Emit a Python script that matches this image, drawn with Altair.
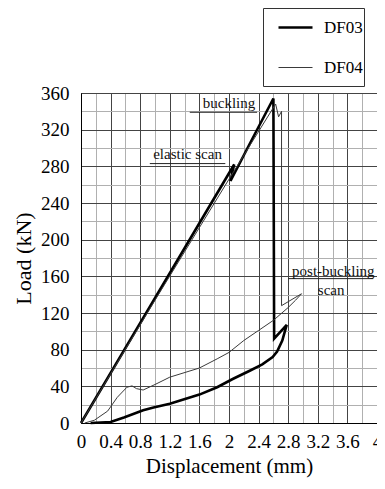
import altair as alt
import pandas as pd

# DF03 (thick): loading, elastic scan, buckling drop, reload, post-buckling unloading
df03_x = [0.0, 2.07, 2.02, 2.27, 2.60, 2.61, 2.78, 2.72, 2.65, 2.59, 2.45, 2.28, 2.05, 1.84, 1.60, 1.20, 0.98, 0.84, 0.58, 0.40, 0.13]
df03_y = [0, 282, 264, 303, 354, 92, 107, 90, 78, 72, 64, 57, 48, 39, 31, 21, 17, 14, 6, 1, 0]

# DF04 (thin)
df04_x = [0.0, 1.00, 2.00, 2.63, 2.67, 2.71, 2.71, 2.98, 2.90, 2.80, 2.60, 2.40, 2.20, 2.00, 1.84, 1.60, 1.20, 1.00, 0.84, 0.75, 0.69, 0.62, 0.49, 0.36, 0.18, 0.05]
df04_y = [0, 134, 266, 348, 334, 340, 128, 141, 134, 126, 112, 101, 90, 77, 70, 60, 50, 42, 36, 37.5, 40.5, 39, 28, 13, 3, 0]

series_names = ["DF03", "DF04"]

ann_text = ["buckling", "elastic scan", "post-buckling", "scan"]
ann_x = [2.0, 1.44, 3.41, 3.38]
ann_y = [349, 294, 165.5, 145]

ul_x1 = [1.47, 0.93, 2.80]
ul_x2 = [2.38, 1.95, 3.95]
ul_y = [339, 283, 157.5]

x_ticks = [round(i * 0.2, 1) for i in range(21)]
y_ticks = list(range(0, 361, 20))

rows = []
for i, (x, y) in enumerate(zip(df03_x, df03_y)):
    rows.append({"series": "DF03", "x": x, "y": y, "order": i})
for i, (x, y) in enumerate(zip(df04_x, df04_y)):
    rows.append({"series": "DF04", "x": x, "y": y, "order": i})
df = pd.DataFrame(rows)

ann = pd.DataFrame({"t": ann_text, "x": ann_x, "y": ann_y})
ul = pd.DataFrame({"x1": ul_x1, "x2": ul_x2, "y": ul_y})

FONT = "Liberation Serif"

xscale = alt.Scale(domain=[0, 4], nice=False)
yscale = alt.Scale(domain=[0, 360], nice=False)

x_axis = alt.Axis(
    title="Displacement (mm)", values=x_ticks, format="~g",
    labelExpr="round(datum.value*10) % 4 == 0 ? datum.label : ''",
    grid=True,
    gridColor={"condition": {"test": "round(datum.value*10) % 4 == 0", "value": "#444"}, "value": "#b0b0b0"},
    ticks=False, labelPadding=9, labelFontSize=19, titleFontSize=21,
    titlePadding=4, labelFlush=False, labelOverlap=False,
    labelFont=FONT, titleFont=FONT, titleFontWeight="normal",
    labelColor="#000", titleColor="#000", domainColor="#000",
)
y_axis = alt.Axis(
    title="Load (kN)", values=y_ticks,
    labelExpr="datum.value % 40 == 0 ? datum.label : ''",
    grid=True,
    gridColor={"condition": {"test": "datum.value % 40 == 0", "value": "#444"}, "value": "#b0b0b0"},
    ticks=False, labelPadding=12, labelFontSize=19, titleFontSize=22,
    titlePadding=5, labelFlush=False, labelOverlap=False,
    labelFont=FONT, titleFont=FONT, titleFontWeight="normal",
    labelColor="#000", titleColor="#000", domainColor="#000",
)

legend = alt.Legend(
    title=" ", titleOrient="bottom", titleFontSize=9, titlePadding=0,
    orient="none", legendX=182, legendY=-85,
    symbolType="stroke", symbolSize=1156, symbolOffset=13,
    labelFontSize=17, labelFont=FONT, labelOffset=10, labelColor="#000",
    labelExpr="datum.label + '   '",
    padding=1, rowPadding=14, strokeColor="#333", fillColor="white",
)

lines = alt.Chart(df).mark_line().encode(
    x=alt.X("x:Q", scale=xscale, axis=x_axis),
    y=alt.Y("y:Q", scale=yscale, axis=y_axis),
    color=alt.Color("series:N", scale=alt.Scale(domain=series_names, range=["#000000", "#3a3a3a"]), legend=legend),
    strokeWidth=alt.StrokeWidth("series:N", scale=alt.Scale(domain=series_names, range=[2.6, 1.0]), legend=legend),
    order="order:Q",
)

texts = alt.Chart(ann).mark_text(font=FONT, fontSize=15, color="#111").encode(
    x=alt.X("x:Q", scale=xscale, axis=x_axis), y=alt.Y("y:Q", scale=yscale, axis=y_axis), text="t:N"
)

rules = alt.Chart(ul).mark_rule(color="#222", strokeWidth=1).encode(
    x=alt.X("x1:Q", scale=xscale, axis=x_axis), x2="x2:Q", y=alt.Y("y:Q", scale=yscale, axis=y_axis)
)

chart = alt.layer(lines, rules, texts).properties(
    width=296, height=330,
    background="white",
    autosize=alt.AutoSizeParams(type="none"),
    padding={"left": 73, "top": 85, "right": 0, "bottom": 58},
).configure_view(stroke="#000", strokeWidth=1).configure_axis(
    gridWidth=1, gridOpacity=1,
)

chart.save("out.html", embed_options={"renderer": "svg", "actions": False})
